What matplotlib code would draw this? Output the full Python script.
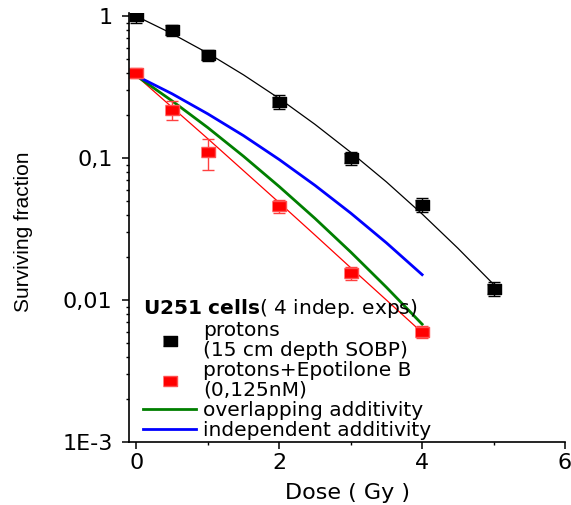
import matplotlib
matplotlib.use("Agg")
import matplotlib.pyplot as plt

# measured points
dose_p = [0, 0.5, 1, 2, 3, 4, 5]
sf_p = [1.0, 0.80, 0.53, 0.25, 0.10, 0.047, 0.012]
err_p = [0.10, 0.07, 0.05, 0.027, 0.011, 0.005, 0.0013]

dose_e = [0, 0.5, 1, 2, 3, 4]
sf_e = [0.40, 0.22, 0.11, 0.046, 0.0155, 0.006]
err_e = [0.03, 0.033, 0.027, 0.005, 0.0017, 0.0006]

# fitted / model curves
dose_fit_p = [0, 0.5, 1, 1.5, 2, 2.5, 3, 3.5, 4, 4.5, 5]
fit_p = [1.0, 0.753, 0.549, 0.386, 0.263, 0.173, 0.110, 0.068, 0.0404, 0.0232, 0.0129]
dose_fit = [0, 0.5, 1, 1.5, 2, 2.5, 3, 3.5, 4]
fit_e = [0.38, 0.228, 0.137, 0.0815, 0.0485, 0.0287, 0.0169, 0.0100, 0.0059]
overlap = [0.38, 0.253, 0.164, 0.103, 0.063, 0.0376, 0.0218, 0.0123, 0.00676]
independent = [0.38, 0.284, 0.205, 0.144, 0.0977, 0.0643, 0.041, 0.0253, 0.0151]

fig = plt.figure(figsize=(5.71, 5.05), dpi=100)
ax = fig.add_axes([0.2264, 0.1248, 0.9895 - 0.2264, 0.9752 - 0.1248])

rect = [(-1, -0.75), (1, -0.75), (1, 0.75), (-1, 0.75)]

ax.plot(dose_fit_p, fit_p, color='black', lw=0.9)
ax.plot(dose_fit, fit_e, color='red', lw=0.9)
l_ov, = ax.plot(dose_fit, overlap, color='#007f00', lw=2)
l_ind, = ax.plot(dose_fit, independent, color='#0000ff', lw=2)

ax.errorbar(dose_p, sf_p, yerr=err_p, fmt='none', ecolor='black', elinewidth=1, capsize=4.3, capthick=1)
ax.errorbar(dose_e, sf_e, yerr=err_e, fmt='none', ecolor='#ff4040', elinewidth=1, capsize=4.3, capthick=1)
m_p, = ax.plot(dose_p, sf_p, linestyle='none', marker=rect, markersize=9.5, color='black')
m_e, = ax.plot(dose_e, sf_e, linestyle='none', marker=rect, markersize=9.5, color='red',
               markeredgecolor='#ff5050')

ax.set_yscale('log')
ax.set_xlim(-0.1, 6)
ax.set_ylim(1e-3, 1.062)
ax.set_xticks([0, 2, 4, 6])
ax.set_xticks([1, 3, 5], minor=True)
ax.set_yticks([1e-3, 1e-2, 1e-1, 1], labels=['1E-3', '0,01', '0,1', '1'])

for s in ['top', 'right']:
    ax.spines[s].set_visible(False)
for s in ['left', 'bottom']:
    ax.spines[s].set_linewidth(1.2)
ax.tick_params(which='major', direction='out', length=5, width=1.1, labelsize=16)
ax.tick_params(which='minor', direction='out', length=2.5, width=1)
ax.tick_params(axis='y', which='major', pad=7)
ax.tick_params(axis='x', which='major', pad=3)

ax.set_xlabel('Dose ( Gy )', fontsize=16)
ax.xaxis.set_label_coords(0.5, -0.095)
ax.set_ylabel('Surviving fraction', fontsize=15, family=['Liberation Sans', 'DejaVu Sans'])
ax.yaxis.set_label_coords(-0.22, 0.49)

leg = ax.legend([m_p, m_e, l_ov, l_ind],
                ['protons\n(15 cm depth SOBP)', 'protons+Epotilone B\n(0,125nM)',
                 'overlapping additivity', 'independent additivity'],
                title=r'$\bf{U251\ cells}$( 4 indep. exps)', title_fontsize=14.5,
                fontsize=14.5, loc='lower left', bbox_to_anchor=(0.0, -0.028),
                frameon=False, alignment='left', handlelength=2.6, handletextpad=0.35,
                labelspacing=0.05, borderpad=0.2)
for t in leg.get_texts():
    t.set_linespacing(1.05)

fig.savefig('out.png', dpi=100)
